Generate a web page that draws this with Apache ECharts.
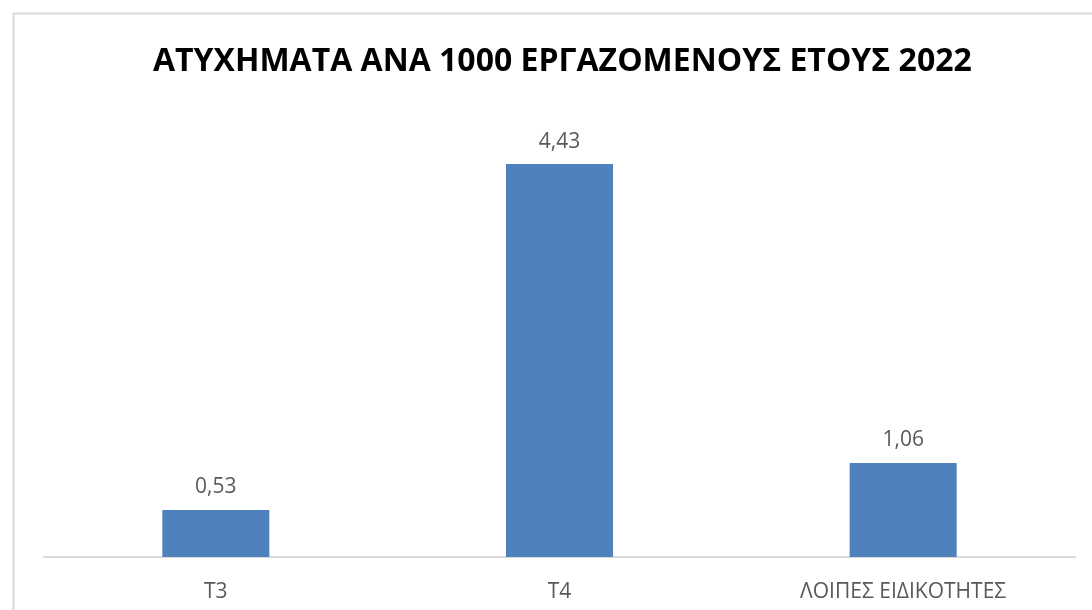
<!DOCTYPE html>
<html>
<head>
<meta charset="utf-8">
<script src="https://cdn.jsdelivr.net/npm/echarts@6/dist/echarts.min.js"></script>
<style>
  html, body { margin: 0; padding: 0; background: #fff; }
  #chart { width: 1092px; height: 610px; }
</style>
</head>
<body>
<div id="chart"></div>
<script>
const categories = ['T3', 'T4', 'ΛΟΙΠΕΣ ΕΙΔΙΚΟΤΗΤΕΣ']
const values = [0.53, 4.43, 1.06]
const titleText = 'ΑΤΥΧΗΜΑΤΑ ΑΝΑ 1000 ΕΡΓΑΖΟΜΕΝΟΥΣ ΕΤΟΥΣ 2022'

const chart = echarts.init(document.getElementById('chart'))

chart.setOption({
  backgroundColor: '#fff',
  animation: false,
  graphic: [{
    type: 'rect',
    shape: { x: 13.5, y: 13.5, width: 1200, height: 700 },
    style: { fill: 'none', stroke: '#d9d9d9', lineWidth: 2 },
    silent: true
  }],
  title: {
    text: titleText,
    left: 148,
    top: 41,
    textStyle: {
      fontFamily: 'Open Sans',
      fontWeight: 'bold',
      fontSize: 32,
      color: '#000'
    }
  },
  grid: {
    left: 44,
    right: 17,
    top: 113.5,
    bottom: 53,
    containLabel: false
  },
  xAxis: {
    type: 'category',
    data: categories,
    axisLine: { lineStyle: { color: '#d9d9d9', width: 2 } },
    axisTick: { show: false },
    axisLabel: {
      color: '#595959',
      fontFamily: 'Open Sans',
      fontSize: 21,
      margin: 25
    }
  },
  yAxis: {
    type: 'value',
    min: 0,
    max: 5,
    show: false,
    splitLine: { show: false }
  },
  series: [{
    type: 'bar',
    data: values,
    barWidth: 107,
    itemStyle: { color: '#4f81bd' },
    label: {
      show: true,
      position: 'top',
      distance: 12,
      color: '#595959',
      fontFamily: 'Open Sans',
      fontSize: 21,
      formatter: p => p.value.toFixed(2).replace('.', ',')
    }
  }]
})
</script>
</body>
</html>
